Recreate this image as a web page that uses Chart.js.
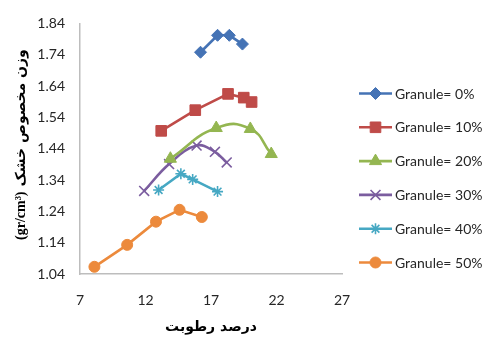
<!DOCTYPE html>
<html>
<head>
<meta charset="utf-8">
<script src="https://cdn.jsdelivr.net/npm/chart.js@4/dist/chart.umd.min.js"></script>
<style>
  html, body { margin: 0; padding: 0; background: #fff; }
  canvas { display: block; }
</style>
</head>
<body>
<canvas id="c" width="484" height="345"></canvas>
<script>
// Moisture content (%) and dry unit weight (gr/cm3) for each granule percentage
const seriesNames = ['Granule= 0%', 'Granule= 10%', 'Granule= 20%', 'Granule= 30%', 'Granule= 40%', 'Granule= 50%'];

const moisture0  = [16.2, 17.5, 18.4, 19.4];
const density0   = [1.748, 1.802, 1.802, 1.774];

const moisture10 = [13.2, 15.8, 18.3, 19.5, 20.1];
const density10  = [1.497, 1.563, 1.615, 1.603, 1.589];

const moisture20 = [13.9, 17.4, 20.0, 21.6];
const density20  = [1.408, 1.506, 1.503, 1.423];

const moisture30 = [11.9, 13.8, 15.9, 17.3, 18.2];
const density30  = [1.305, 1.391, 1.450, 1.430, 1.396];

const moisture40 = [13.0, 14.7, 15.6, 17.5];
const density40  = [1.308, 1.360, 1.342, 1.303];

const moisture50 = [8.1, 10.6, 12.8, 14.6, 16.3];
const density50  = [1.063, 1.133, 1.207, 1.245, 1.222];

const xTicks = [7, 12, 17, 22, 27];
const yTicks = [1.04, 1.14, 1.24, 1.34, 1.44, 1.54, 1.64, 1.74, 1.84];

const xTitle = 'درصد رطوبت';
const yTitleArabic = 'وزن مخصوص خشک';
const yTitleUnit = '(gr/cm³)';

const allX = [moisture0, moisture10, moisture20, moisture30, moisture40, moisture50];
const allY = [density0, density10, density20, density30, density40, density50];

const colors  = ['#4573b5', '#bf4b48', '#94b651', '#7b5d9f', '#46a8c3', '#ec8a3c'];
const styles  = ['rectRot', 'rect', 'triangle', 'crossRot', 'star', 'circle'];
const radii   = [6, 7.5, 7, 7, 5.5, 5.5];
const tension = [0, 0, 0.5, 0.4, 0, 0];

function toPoints(xs, ys) {
  return xs.map((x, i) => ({ x: x, y: ys[i] }));
}

const datasets = seriesNames.map((name, i) => {
  const thin = styles[i] === 'crossRot' || styles[i] === 'star';
  return {
    label: name,
    data: toPoints(allX[i], allY[i]),
    borderColor: colors[i],
    backgroundColor: colors[i],
    borderWidth: 2.6,
    tension: tension[i],
    pointStyle: styles[i],
    pointRadius: radii[i],
    pointBorderWidth: thin ? 1.6 : 1,
    pointBorderColor: colors[i],
    pointBackgroundColor: colors[i],
    fill: false
  };
});

// Legend on the right: a short line with the series marker in the middle
const sideLegend = {
  id: 'sideLegend',
  afterDraw(chart) {
    const ctx = chart.ctx;
    const x0 = 359, x1 = 392, textX = 395;
    const top = 93.5, step = 33.8;
    chart.data.datasets.forEach((ds, i) => {
      const y = top + i * step;
      ctx.save();
      ctx.strokeStyle = ds.borderColor;
      ctx.lineWidth = ds.borderWidth;
      ctx.beginPath();
      ctx.moveTo(x0, y);
      ctx.lineTo(x1, y);
      ctx.stroke();
      ctx.fillStyle = ds.pointBackgroundColor;
      ctx.strokeStyle = ds.pointBorderColor;
      ctx.lineWidth = ds.pointBorderWidth;
      Chart.helpers.drawPoint(ctx, {
        pointStyle: ds.pointStyle,
        radius: ds.pointRadius,
        rotation: 0,
        borderWidth: ds.pointBorderWidth
      }, (x0 + x1) / 2, y);
      ctx.fillStyle = '#262626';
      ctx.font = '14px Lato, "Open Sans", sans-serif';
      ctx.textAlign = 'left';
      ctx.textBaseline = 'middle';
      ctx.fillText(ds.label, textX, y + 0.5);
      ctx.restore();
    });
  }
};

// Vertical axis title: unit in bold serif, Persian words after it
const yAxisTitle = {
  id: 'yAxisTitle',
  afterDraw(chart) {
    const ctx = chart.ctx;
    ctx.save();
    ctx.translate(21, 240);
    ctx.rotate(-Math.PI / 2);
    ctx.textBaseline = 'middle';
    ctx.textAlign = 'left';
    ctx.fillStyle = '#000';
    ctx.font = 'bold 14px "Liberation Serif", "Times New Roman", serif';
    ctx.fillText(yTitleUnit, 0, 0);
    const w = ctx.measureText(yTitleUnit).width;
    ctx.font = 'bold 14px "DejaVu Sans", sans-serif';
    ctx.fillText(yTitleArabic, w + 5, 0);
    ctx.restore();
  }
};

new Chart(document.getElementById('c'), {
  type: 'line',
  data: { datasets: datasets },
  options: {
    responsive: false,
    animation: false,
    devicePixelRatio: 1,
    layout: { padding: { top: 18, right: 142, bottom: 0, left: 0 } },
    plugins: {
      legend: { display: false },
      tooltip: { enabled: false }
    },
    scales: {
      x: {
        type: 'linear',
        min: xTicks[0],
        max: xTicks[xTicks.length - 1],
        afterBuildTicks: (s) => { s.ticks = xTicks.map(v => ({ value: v })); },
        afterFit: (s) => { s.height = 71; },
        grid: { display: false, drawTicks: false },
        border: { display: true, color: '#bdbdbd', width: 1.5 },
        ticks: {
          padding: 18,
          color: '#262626',
          font: { family: 'Lato, "Open Sans", sans-serif', size: 14 },
          maxRotation: 0,
          autoSkip: false,
          callback: (v) => String(v)
        },
        title: {
          display: true,
          text: xTitle,
          color: '#000',
          font: { family: '"DejaVu Sans", sans-serif', size: 14, weight: 'bold' },
          padding: { top: 0, bottom: 9 }
        }
      },
      y: {
        type: 'linear',
        min: yTicks[0],
        max: yTicks[yTicks.length - 1],
        afterBuildTicks: (s) => { s.ticks = yTicks.map(v => ({ value: v })); },
        afterFit: (s) => { s.width = 80; },
        grid: { display: false, drawTicks: false },
        border: { display: true, color: '#bdbdbd', width: 1.5 },
        ticks: {
          padding: 15,
          color: '#262626',
          font: { family: 'Lato, "Open Sans", sans-serif', size: 14 },
          autoSkip: false,
          callback: (v) => Number(v).toFixed(2)
        }
      }
    }
  },
  plugins: [sideLegend, yAxisTitle]
});
</script>
</body>
</html>
